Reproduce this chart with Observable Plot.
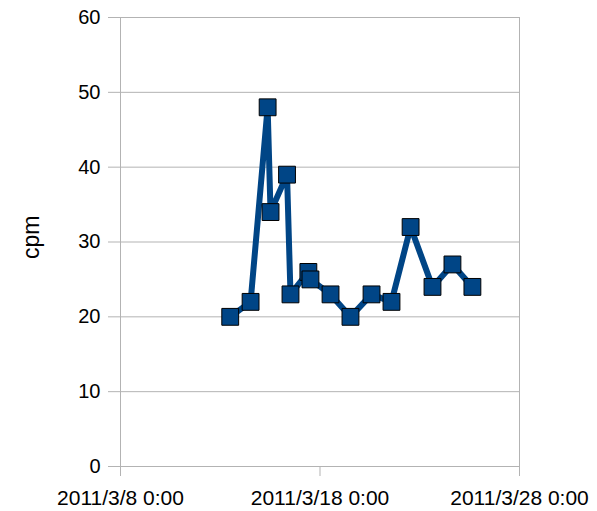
<!DOCTYPE html>
<html>
<head>
<meta charset="utf-8">
<script src="https://cdn.jsdelivr.net/npm/d3@7"></script>
<script src="https://cdn.jsdelivr.net/npm/@observablehq/plot@0.6"></script>
<style>
  html, body { margin: 0; padding: 0; background: #fff; }
  #chart svg { display: block; }
</style>
</head>
<body>
<div id="chart"></div>
<script>
const times = [
  "2011-03-13T12:00", "2011-03-14T12:30", "2011-03-15T09:00", "2011-03-15T12:30",
  "2011-03-16T08:20", "2011-03-16T12:30", "2011-03-17T10:00", "2011-03-17T12:30",
  "2011-03-18T12:40", "2011-03-19T12:40", "2011-03-20T14:00", "2011-03-21T14:00",
  "2011-03-22T13:00", "2011-03-23T15:20", "2011-03-24T15:20", "2011-03-25T15:20"
];
const cpm = [20, 22, 48, 34, 39, 23, 26, 25, 23, 20, 23, 22, 32, 24, 27, 24];
const xTicks = ["2011-03-08T00:00", "2011-03-18T00:00", "2011-03-28T00:00"];
const yTicks = [0, 10, 20, 30, 40, 50, 60];
const yLabel = "cpm";

const data = times.map((t, i) => ({ date: new Date(t), value: cpm[i] }));
const xTickDates = xTicks.map(t => new Date(t));
const fmt = d => `${d.getFullYear()}/${d.getMonth() + 1}/${d.getDate()} ${d.getHours()}:${String(d.getMinutes()).padStart(2, "0")}`;

const chart = Plot.plot({
  width: 597,
  height: 511,
  marginLeft: 120,
  marginRight: 78,
  marginTop: 17,
  marginBottom: 45,
  style: { fontFamily: "'Liberation Sans', Arial, sans-serif", fontSize: "20px", color: "#000", background: "#fff" },
  x: { type: "time", domain: [xTickDates[0], xTickDates[2]] },
  y: { domain: [0, 60] },
  marks: [
    Plot.gridY(yTicks, { stroke: "#b3b3b3", strokeOpacity: 1 }),
    Plot.frame({ stroke: "#b3b3b3" }),
    Plot.axisY(yTicks, { tickSize: 12, tickPadding: 8, stroke: "#b3b3b3", label: null, fill: "#000" }),
    Plot.axisX(xTickDates, { tickSize: 10, tickPadding: 14, stroke: "#b3b3b3", label: null, tickFormat: fmt, fill: "#000", fontSize: 21 }),
    Plot.text([yLabel], { frameAnchor: "left", dx: -89, dy: 17, rotate: -90, fontSize: 23, fill: "#000" }),
    Plot.line(data, { x: "date", y: "value", stroke: "#004586", strokeWidth: 6, strokeLinejoin: "miter" }),
    Plot.dot(data, { x: "date", y: "value", symbol: "square", r: 9.5, fill: "#004586", stroke: "#000", strokeWidth: 1 })
  ]
});
document.getElementById("chart").appendChild(chart);
</script>
</body>
</html>
